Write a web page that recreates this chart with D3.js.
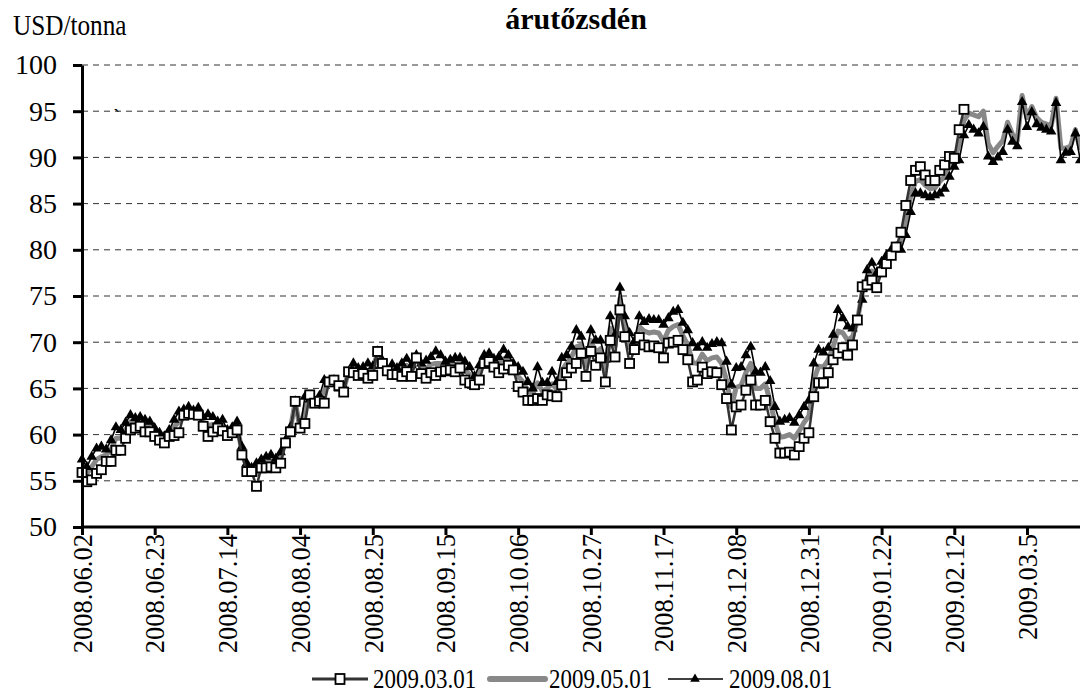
<!DOCTYPE html>
<html>
<head>
<meta charset="utf-8">
<script src="https://cdn.jsdelivr.net/npm/d3@7"></script>
<style>
body { margin: 0; background: #fff; }
svg text { font-family: "Liberation Serif", "Times New Roman", serif; }
</style>
</head>
<body>
<div id="chart-area"></div>
<script>
// tick labels on the category axis (every 15th trading day)
var tickLabels = ["2008.06.02", "2008.06.23", "2008.07.14", "2008.08.04", "2008.08.25",
  "2008.09.15", "2008.10.06", "2008.10.27", "2008.11.17", "2008.12.08",
  "2008.12.31", "2009.01.22", "2009.02.12", "2009.03.5"]
var yTicks = [50, 55, 60, 65, 70, 75, 80, 85, 90, 95, 100]
var seriesNames = ["2009.03.01", "2009.05.01", "2009.08.01"]

// 2009.03.01 contract (squares)
var s0301 = [55.9, 54.9, 55.1, 55.8, 56.2, 57.1, 57.1, 58.3, 58.3, 59.6,
  60.5, 60.7, 60.9, 60.3, 60.3, 59.8, 59.4, 59.1, 59.8, 59.9,
  60.2, 62.1, 62.3, 62.2, 62.1, 60.9, 59.8, 60.3, 60.7, 60.4,
  59.9, 60.2, 60.5, 57.8, 56.0, 56.0, 54.4, 56.4, 56.4, 56.5,
  56.4, 56.9, 59.1, 60.3, 63.6, 60.7, 61.2, 64.3, 63.4, 63.6,
  63.4, 65.7, 65.9, 65.3, 64.6, 66.8, 66.7, 66.4, 66.6, 66.1,
  66.4, 69.0, 67.7, 66.9, 66.5, 66.5, 66.3, 66.8, 66.3, 68.3,
  66.6, 66.1, 66.7, 66.4, 66.8, 66.9, 67.0, 66.8, 67.2, 65.9,
  65.6, 65.4, 65.9, 67.7, 67.9, 67.3, 66.7, 67.1, 67.5, 67.0,
  65.2, 64.6, 63.7, 63.7, 63.9, 63.7, 64.3, 64.2, 64.1, 65.4,
  66.7, 67.2, 67.7, 68.8, 66.3, 69.0, 67.5, 68.3, 65.7, 70.2,
  68.4, 73.5, 70.6, 67.7, 69.2, 70.5, 69.7, 69.5, 69.6, 69.4,
  68.3, 69.9, 70.0, 70.2, 69.2, 68.1, 65.7, 65.9, 67.3, 66.6,
  66.8, 66.7, 65.4, 63.9, 60.5, 63.0, 63.2, 64.8, 65.9, 63.2,
  63.2, 63.7, 61.4, 59.6, 58.0, 58.0, 58.1, 57.8, 58.7, 59.6,
  60.2, 64.1, 65.6, 65.6, 66.7, 68.1, 68.8, 69.4, 68.6, 69.7,
  72.4, 76.0, 76.2, 76.7, 75.9, 77.6, 78.5, 79.4, 80.3, 81.9,
  84.8, 87.5, 88.6, 89.0, 88.1, 87.5, 87.5, 88.6, 89.2, 90.1,
  89.9, 93.0, 95.2]

// 2009.05.01 contract (grey line)
var s0501 = [56.6, 55.8, 56.5, 57.3, 57.6, 57.8, 58.4, 59.6, 59.6, 60.5,
  61.4, 61.3, 61.5, 61.0, 60.9, 60.3, 59.8, 59.5, 60.1, 60.8,
  61.4, 62.4, 62.7, 62.4, 62.5, 61.4, 61.0, 61.1, 61.1, 61.0,
  60.2, 60.5, 61.0, 58.2, 56.5, 56.2, 55.7, 56.9, 57.0, 57.2,
  56.9, 57.5, 59.3, 60.6, 63.6, 60.6, 62.8, 64.0, 63.5, 63.9,
  64.7, 65.7, 65.9, 65.2, 64.9, 66.8, 67.2, 66.8, 67.0, 66.9,
  66.9, 69.0, 67.9, 67.0, 67.0, 66.9, 67.0, 67.5, 66.9, 68.5,
  67.2, 67.1, 67.6, 67.7, 67.7, 67.4, 67.6, 67.6, 67.8, 66.9,
  66.5, 65.9, 66.7, 68.2, 68.4, 67.8, 67.6, 68.2, 68.1, 67.4,
  66.3, 65.7, 64.7, 64.4, 65.6, 64.7, 65.0, 65.5, 64.9, 66.9,
  67.7, 68.4, 69.5, 69.7, 67.5, 70.2, 68.9, 69.3, 66.9, 71.5,
  69.6, 74.7, 71.7, 69.4, 69.7, 71.7, 71.2, 71.0, 71.1, 71.0,
  70.1, 71.3, 71.7, 71.9, 70.7, 69.7, 67.8, 67.7, 68.7, 68.0,
  68.3, 68.4, 67.7, 65.9, 63.0, 65.1, 65.3, 66.7, 67.7, 65.0,
  65.0, 65.5, 63.6, 61.3, 59.7, 59.8, 60.0, 59.6, 60.4, 61.3,
  62.0, 65.9, 67.4, 67.3, 68.1, 69.5, 71.2, 71.0, 70.2, 70.6,
  72.3, 75.3, 77.0, 77.7, 76.7, 78.2, 79.0, 79.7, 80.3, 81.0,
  83.2, 85.8, 87.4, 87.6, 87.0, 86.6, 86.7, 87.4, 87.9, 89.0,
  89.5, 91.5, 94.0, 94.8, 94.6, 94.4, 95.0, 91.5, 90.5, 91.2,
  91.8, 93.8, 92.5, 91.8, 96.7, 94.3, 95.5, 94.3, 93.8, 93.6,
  93.4, 96.4, 91.0, 91.0, 91.2, 93.0, 90.8]

// 2009.08.01 contract (triangles)
var s0801 = [57.3, 56.5, 57.6, 58.5, 58.7, 58.4, 59.4, 60.8, 60.5, 61.3,
  62.1, 61.8, 61.9, 61.6, 61.4, 60.7, 60.2, 59.8, 60.5, 61.6,
  62.5, 62.7, 63.0, 62.6, 62.9, 61.9, 62.2, 61.9, 61.4, 61.6,
  60.5, 60.8, 61.4, 58.7, 56.9, 56.4, 56.9, 57.3, 57.6, 57.8,
  57.4, 58.1, 59.4, 60.8, 63.6, 60.5, 64.1, 63.8, 63.6, 64.2,
  65.9, 65.7, 65.9, 65.0, 65.2, 66.8, 67.7, 67.2, 67.3, 67.7,
  67.4, 69.0, 68.0, 67.0, 67.6, 67.2, 67.7, 68.2, 67.5, 68.6,
  67.7, 68.0, 68.4, 69.0, 68.6, 67.9, 68.1, 68.3, 68.3, 67.9,
  67.3, 66.3, 67.5, 68.6, 68.8, 68.2, 68.4, 69.2, 68.6, 67.7,
  67.3, 66.8, 65.7, 65.0, 67.3, 65.6, 65.6, 66.8, 65.7, 68.3,
  68.6, 69.5, 71.3, 70.6, 68.6, 71.3, 70.2, 70.2, 68.1, 72.8,
  70.8, 75.9, 72.8, 71.0, 70.1, 72.8, 72.2, 72.5, 72.4, 72.4,
  71.9, 72.6, 73.3, 73.5, 72.1, 71.3, 69.9, 69.4, 70.0, 69.4,
  69.8, 70.0, 69.9, 67.9, 65.4, 67.2, 67.3, 68.6, 69.5, 66.8,
  66.7, 67.3, 65.8, 63.0, 61.4, 61.6, 61.8, 61.3, 62.1, 63.0,
  63.7, 67.7, 69.2, 68.9, 69.4, 70.8, 73.5, 72.6, 71.7, 71.5,
  72.2, 74.6, 77.8, 78.6, 77.5, 78.7, 79.4, 80.0, 80.3, 80.0,
  81.6, 84.1, 86.1, 86.1, 85.9, 85.7, 85.9, 86.1, 86.6, 87.9,
  89.0, 89.7, 92.4, 93.5, 93.0, 92.6, 93.3, 90.1, 89.5, 90.0,
  90.6, 93.0, 91.7, 91.2, 96.0, 93.3, 94.9, 93.6, 93.2, 93.0,
  92.8, 95.9, 89.7, 90.5, 90.6, 92.6, 89.7]

var width = 1080
var height = 695
var margin = {left: 82, top: 65, bottom: 527}
var serif = "'Liberation Serif', 'Times New Roman', serif"

var svg = d3.select("#chart-area")
  .append("svg")
  .attr("width", width)
  .attr("height", height)

var x = d3.scaleLinear().domain([0, s0801.length - 1]).range([margin.left, margin.left + 206 * 4.846])
var y = d3.scaleLinear().domain([50, 100]).range([margin.bottom, margin.top])

// dashed gridlines
svg.append("g")
  .selectAll("line")
  .data(yTicks.slice(1))
  .enter().append("line")
    .attr("x1", margin.left)
    .attr("x2", width)
    .attr("y1", d => y(d))
    .attr("y2", d => y(d))
    .attr("stroke", "#333")
    .attr("stroke-width", 1)
    .attr("stroke-dasharray", "6,5")

var line = d3.line().x((d, i) => x(i)).y(d => y(d))

// grey series
svg.append("path")
  .attr("d", line(s0501))
  .attr("fill", "none")
  .attr("stroke", "#888")
  .attr("stroke-width", 5)
  .attr("stroke-linejoin", "round")

// triangle series
svg.append("path")
  .attr("d", line(s0801))
  .attr("fill", "none")
  .attr("stroke", "#000")
  .attr("stroke-width", 1.6)
var tri = d3.symbol().type(d3.symbolTriangle).size(48)
svg.append("g")
  .selectAll("path")
  .data(s0801)
  .enter().append("path")
    .attr("d", tri)
    .attr("transform", (d, i) => `translate(${x(i)}, ${y(d)})`)
    .attr("fill", "#000")

// square series
svg.append("path")
  .attr("d", line(s0301))
  .attr("fill", "none")
  .attr("stroke", "#333")
  .attr("stroke-width", 2.5)
svg.append("g")
  .selectAll("rect")
  .data(s0301)
  .enter().append("rect")
    .attr("x", (d, i) => x(i) - 4.5)
    .attr("y", d => y(d) - 4.5)
    .attr("width", 9)
    .attr("height", 9)
    .attr("fill", "#fff")
    .attr("stroke", "#000")
    .attr("stroke-width", 1.8)

// axes
var leftAxis = d3.axisLeft(y).tickValues(yTicks).tickSize(9).tickSizeOuter(0).tickPadding(16)
var gy = svg.append("g")
  .attr("transform", `translate(${margin.left}, 0)`)
  .call(leftAxis)
gy.selectAll("line, path").attr("stroke", "#000").attr("stroke-width", 3)
gy.selectAll("text")
  .style("font-family", serif)
  .style("font-size", "28px")
  .attr("fill", "#000")

var bottomAxis = d3.axisBottom(x)
  .tickValues(tickLabels.map((d, i) => i * 15))
  .tickFormat((d, i) => tickLabels[i])
  .tickSize(8)
  .tickSizeOuter(0)
var gx = svg.append("g")
  .attr("transform", `translate(0, ${margin.bottom})`)
  .call(bottomAxis)
gx.select("path").attr("d", `M${margin.left},0H${width}`)
gx.selectAll("line, path").attr("stroke", "#000").attr("stroke-width", 3)
gx.selectAll("text")
  .style("font-family", serif)
  .style("font-size", "26.5px")
  .attr("fill", "#000")
  .attr("text-anchor", "end")
  .attr("transform", "rotate(-90)")
  .attr("x", -7)
  .attr("y", 0)
  .attr("dy", "0.35em")

// titles
svg.append("text")
  .attr("transform", "translate(13, 35) scale(0.87, 1)")
  .style("font-family", serif)
  .style("font-size", "29px")
  .text("USD/tonna")
svg.append("text")
  .attr("x", 576)
  .attr("y", 29)
  .style("font-family", serif)
  .style("font-size", "30px")
  .style("font-weight", "bold")
  .attr("text-anchor", "middle")
  .text("árutőzsdén")
svg.append("text")
  .attr("x", 113)
  .attr("y", 124)
  .style("font-family", serif)
  .style("font-size", "22px")
  .text("`")

// legend
var legY = 679
var leg = svg.append("g")
var legX = [312, 488, 668]
leg.append("line").attr("x1", legX[0]).attr("x2", legX[0] + 56).attr("y1", legY).attr("y2", legY)
  .attr("stroke", "#333").attr("stroke-width", 3)
leg.append("rect").attr("x", legX[0] + 23.5).attr("y", legY - 5).attr("width", 9).attr("height", 10)
  .attr("fill", "#fff").attr("stroke", "#000").attr("stroke-width", 1.8)
leg.append("line").attr("x1", legX[1] + 2).attr("x2", legX[1] + 57).attr("y1", legY).attr("y2", legY)
  .attr("stroke", "#888").attr("stroke-width", 6).attr("stroke-linecap", "round")
leg.append("line").attr("x1", legX[2]).attr("x2", legX[2] + 55).attr("y1", legY).attr("y2", legY)
  .attr("stroke", "#000").attr("stroke-width", 1.6)
leg.append("path").attr("d", d3.symbol().type(d3.symbolTriangle).size(40))
  .attr("transform", `translate(${legX[2] + 27}, ${legY})`)
leg.selectAll("text.lbl")
  .data(seriesNames)
  .enter().append("text")
    .attr("class", "lbl")
    .attr("transform", (d, i) => `translate(${legX[i] + 61}, ${legY + 9}) scale(0.85, 1)`)
    .style("font-family", serif)
    .style("font-size", "27px")
    .text(d => d)
</script>
</body>
</html>
